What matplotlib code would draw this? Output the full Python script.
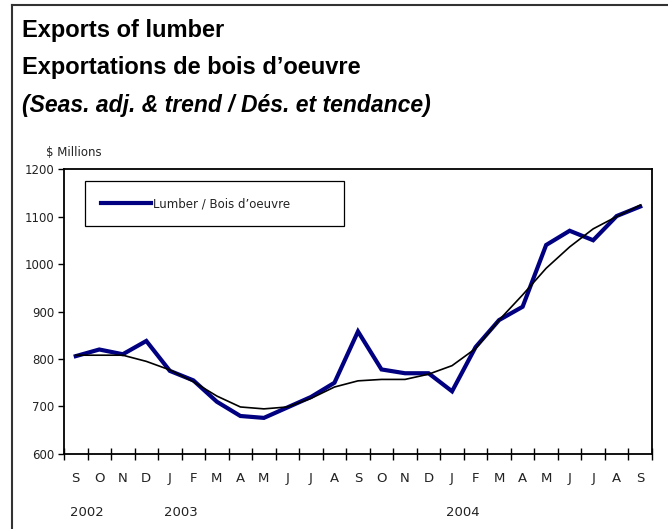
import matplotlib
matplotlib.use('Agg')
import matplotlib.pyplot as plt
from matplotlib.lines import Line2D
from matplotlib.ticker import FixedLocator, NullFormatter
import matplotlib.transforms as mtransforms

# Monthly values, Sep 2002 .. Sep 2004 ($ millions)
months = ['S', 'O', 'N', 'D', 'J', 'F', 'M', 'A', 'M', 'J', 'J', 'A',
          'S', 'O', 'N', 'D', 'J', 'F', 'M', 'A', 'M', 'J', 'J', 'A', 'S']
years = ['2002', '2003', '2004']
year_start = [0, 4, 16]

lumber = [806, 820, 810, 838, 775, 755, 710, 680, 676, 698, 720, 750,
          858, 778, 770, 770, 732, 825, 882, 910, 1040, 1070, 1050, 1101, 1121]
trend = [808, 808, 808, 795, 777, 752, 722, 699, 695, 699, 717, 741,
         754, 757, 757, 768, 786, 822, 882, 935, 991, 1036, 1074, 1100, 1124]

y_ticks = [600, 700, 800, 900, 1000, 1100, 1200]

plt.rcParams['font.family'] = ['DejaVu Sans']

fig = plt.figure(figsize=(6.68, 5.29), dpi=100)
ax = fig.add_axes([0.0958, 0.1418, 0.8802, 0.5387])

x = list(range(len(months)))
ax.plot(x, lumber, color='#000080', lw=3.0, solid_joinstyle='miter',
        label='Lumber / Bois d\u2019oeuvre', zorder=3)
ax.plot(x, trend, color='black', lw=1.2, zorder=4)

ax.set_xlim(-0.5, len(months) - 0.5)
ax.set_ylim(600, 1200)
ax.set_yticks(y_ticks)
ax.tick_params(axis='y', direction='out', length=4, width=1, labelsize=8.5,
               labelcolor='#222222', pad=3)

# month letters centred in each category, ticks on category boundaries
ax.set_xticks(x)
ax.set_xticklabels(months)
ax.tick_params(axis='x', which='major', length=0, labelsize=9.5,
               labelcolor='#222222', pad=13)
ax.xaxis.set_minor_locator(FixedLocator([i - 0.5 for i in range(len(months) + 1)]))
ax.xaxis.set_minor_formatter(NullFormatter())
ax.tick_params(axis='x', which='minor', direction='inout', length=9, width=1)

for sp in ax.spines.values():
    sp.set_linewidth(1.3)

trans = mtransforms.blended_transform_factory(ax.transData, fig.transFigure)
for yr, pos in zip(years, year_start):
    ax.text(pos - 0.25, 1 - 513 / 529, yr, transform=trans, ha='left',
            va='center', fontsize=9.5, color='#222222')

leg = ax.legend(loc='lower left', bbox_to_anchor=(0.0357, 0.8, 0.44, 0.158),
                mode='expand', fontsize=8.5, fancybox=False, framealpha=1,
                edgecolor='black', borderpad=1.35, handlelength=4.2,
                handletextpad=0.2, borderaxespad=0)
leg.get_frame().set_linewidth(0.9)
for t in leg.get_texts():
    t.set_color('#222222')

# titles
fig.text(0.033, 1 - 36.7 / 529, 'Exports of lumber', fontsize=17,
         fontweight='bold', family='Liberation Sans', va='baseline')
fig.text(0.033, 1 - 74 / 529, 'Exportations de bois d\u2019oeuvre', fontsize=17,
         fontweight='bold', family='Liberation Sans', va='baseline')
fig.text(0.033, 1 - 112 / 529, '(Seas. adj. & trend / D\u00e9s. et tendance)',
         fontsize=16.5, fontweight='bold', style='italic',
         family='Liberation Sans', va='baseline')
fig.text(46 / 668, 1 - 152 / 529, '$ Millions', fontsize=8.5, color='#222222',
         va='center')

# outer frame (top and left edges visible)
fig.add_artist(Line2D([12 / 668, 1], [1 - 4.7 / 529] * 2, transform=fig.transFigure,
                      color='#333333', lw=1.5))
fig.add_artist(Line2D([12 / 668] * 2, [0, 1 - 4.7 / 529], transform=fig.transFigure,
                      color='#333333', lw=1.5))

fig.savefig('out.png', dpi=100)
